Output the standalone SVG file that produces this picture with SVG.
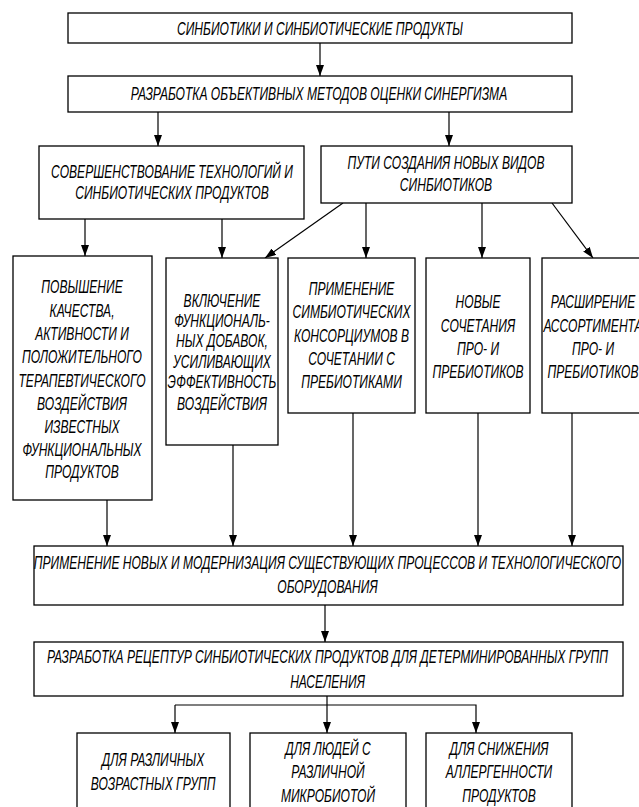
<svg xmlns="http://www.w3.org/2000/svg" width="639" height="807" viewBox="0 0 639 807">
<style>
.b{fill:#fff;stroke:#000;stroke-width:1.3}
.t{font-family:"Liberation Sans",Arial,sans-serif;font-style:italic;font-size:17.5px;fill:#000;text-anchor:middle}
.c{stroke:#000;stroke-width:1.2;fill:none}
</style>
<defs>
<marker id="a" markerUnits="userSpaceOnUse" markerWidth="11" markerHeight="8" refX="11" refY="4" orient="auto" viewBox="0 0 11 8">
<path d="M0,0 L11,4 L0,8 z" fill="#000"/>
</marker>
</defs>
<rect width="639" height="807" fill="#fff"/>
<g id="connectors">
<line class="c" x1="320" y1="43" x2="320" y2="76" marker-end="url(#a)"/>
<line class="c" x1="158" y1="112" x2="158" y2="146" marker-end="url(#a)"/>
<line class="c" x1="449" y1="112" x2="449" y2="146" marker-end="url(#a)"/>
<line class="c" x1="85" y1="219" x2="85" y2="256" marker-end="url(#a)"/>
<line class="c" x1="222" y1="219" x2="222" y2="258" marker-end="url(#a)"/>
<line class="c" x1="343" y1="203" x2="265" y2="258" marker-end="url(#a)"/>
<line class="c" x1="366" y1="203" x2="366" y2="258" marker-end="url(#a)"/>
<line class="c" x1="482" y1="203" x2="482" y2="258" marker-end="url(#a)"/>
<line class="c" x1="552" y1="203" x2="593" y2="258" marker-end="url(#a)"/>
<line class="c" x1="107" y1="500" x2="107" y2="546" marker-end="url(#a)"/>
<line class="c" x1="233" y1="445" x2="233" y2="546" marker-end="url(#a)"/>
<line class="c" x1="353" y1="413" x2="353" y2="546" marker-end="url(#a)"/>
<line class="c" x1="478" y1="413" x2="478" y2="546" marker-end="url(#a)"/>
<line class="c" x1="572" y1="413" x2="572" y2="546" marker-end="url(#a)"/>
<line class="c" x1="325" y1="605" x2="325" y2="642" marker-end="url(#a)"/>
<line class="c" x1="327" y1="696" x2="327" y2="733" marker-end="url(#a)"/>
<polyline class="c" points="175,705 476,705 476,733" marker-end="url(#a)"/>
<line class="c" x1="175" y1="705" x2="175" y2="733" marker-end="url(#a)"/>
</g>
<g id="n1"><rect class="b" x="68" y="13" width="504" height="30"/><text class="t" transform="translate(320,0) scale(.69,1)" y="35">СИНБИОТИКИ И СИНБИОТИЧЕСКИЕ ПРОДУКТЫ</text></g>
<g id="n2"><rect class="b" x="68" y="76" width="504" height="36"/><text class="t" transform="translate(319,0) scale(.69,1)" y="100">РАЗРАБОТКА ОБЪЕКТИВНЫХ МЕТОДОВ ОЦЕНКИ СИНЕРГИЗМА</text></g>
<g id="n3"><rect class="b" x="39" y="146" width="265" height="73"/><text class="t" transform="translate(172,0) scale(.69,1)" y="178">СОВЕРШЕНСТВОВАНИЕ ТЕХНОЛОГИЙ И</text><text class="t" transform="translate(172,0) scale(.69,1)" y="199">СИНБИОТИЧЕСКИХ ПРОДУКТОВ</text></g>
<g id="n4"><rect class="b" x="321" y="146" width="251" height="57"/><text class="t" transform="translate(446,0) scale(.69,1)" y="169">ПУТИ СОЗДАНИЯ НОВЫХ ВИДОВ</text><text class="t" transform="translate(446,0) scale(.69,1)" y="191">СИНБИОТИКОВ</text></g>
<g id="n5"><rect class="b" x="13" y="256" width="139" height="244"/>
<g transform="translate(82,0) scale(.69,1)">
<text class="t" y="293">ПОВЫШЕНИЕ</text><text class="t" y="317">КАЧЕСТВА,</text><text class="t" y="340">АКТИВНОСТИ И</text><text class="t" y="363">ПОЛОЖИТЕЛЬНОГО</text><text class="t" y="387">ТЕРАПЕВТИЧЕСКОГО</text><text class="t" y="410">ВОЗДЕЙСТВИЯ</text><text class="t" y="433">ИЗВЕСТНЫХ</text><text class="t" y="456">ФУНКЦИОНАЛЬНЫХ</text><text class="t" y="478">ПРОДУКТОВ</text></g></g>
<g id="n6"><rect class="b" x="166" y="258" width="112" height="187"/>
<g transform="translate(222,0) scale(.69,1)">
<text class="t" y="307">ВКЛЮЧЕНИЕ</text><text class="t" y="327">ФУНКЦИОНАЛЬ-</text><text class="t" y="347">НЫХ ДОБАВОК,</text><text class="t" y="368">УСИЛИВАЮЩИХ</text><text class="t" y="388">ЭФФЕКТИВНОСТЬ</text><text class="t" y="410">ВОЗДЕЙСТВИЯ</text></g></g>
<g id="n7"><rect class="b" x="288" y="258" width="127" height="155"/>
<g transform="translate(351.5,0) scale(.69,1)">
<text class="t" y="295">ПРИМЕНЕНИЕ</text><text class="t" y="318">СИМБИОТИЧЕСКИХ</text><text class="t" y="342">КОНСОРЦИУМОВ В</text><text class="t" y="365">СОЧЕТАНИИ С</text><text class="t" y="388">ПРЕБИОТИКАМИ</text></g></g>
<g id="n8"><rect class="b" x="426" y="258" width="104" height="155"/>
<g transform="translate(478,0) scale(.69,1)">
<text class="t" y="308">НОВЫЕ</text><text class="t" y="332">СОЧЕТАНИЯ</text><text class="t" y="355">ПРО- И</text><text class="t" y="378">ПРЕБИОТИКОВ</text></g></g>
<g id="n9"><rect class="b" x="542" y="258" width="102" height="155"/>
<g transform="translate(593,0) scale(.69,1)">
<text class="t" y="308">РАСШИРЕНИЕ</text><text class="t" y="332">АССОРТИМЕНТА</text><text class="t" y="355">ПРО- И</text><text class="t" y="378">ПРЕБИОТИКОВ</text></g></g>
<g id="n10"><rect class="b" x="34" y="546" width="589" height="59"/>
<g transform="translate(327.5,0) scale(.69,1)"><text class="t" y="569">ПРИМЕНЕНИЕ НОВЫХ И МОДЕРНИЗАЦИЯ СУЩЕСТВУЮЩИХ ПРОЦЕССОВ И ТЕХНОЛОГИЧЕСКОГО</text><text class="t" y="593">ОБОРУДОВАНИЯ</text></g></g>
<g id="n11"><rect class="b" x="34" y="642" width="589" height="54"/>
<g transform="translate(327.5,0) scale(.69,1)"><text class="t" y="663">РАЗРАБОТКА РЕЦЕПТУР СИНБИОТИЧЕСКИХ ПРОДУКТОВ ДЛЯ ДЕТЕРМИНИРОВАННЫХ ГРУПП</text><text class="t" y="688">НАСЕЛЕНИЯ</text></g></g>
<g id="n12"><rect class="b" x="77" y="733" width="153" height="90"/>
<g transform="translate(153,0) scale(.69,1)"><text class="t" y="766">ДЛЯ РАЗЛИЧНЫХ</text><text class="t" y="790">ВОЗРАСТНЫХ ГРУПП</text></g></g>
<g id="n13"><rect class="b" x="250" y="733" width="156" height="90"/>
<g transform="translate(328,0) scale(.69,1)"><text class="t" y="755">ДЛЯ ЛЮДЕЙ С</text><text class="t" y="778">РАЗЛИЧНОЙ</text><text class="t" y="802">МИКРОБИОТОЙ</text></g></g>
<g id="n14"><rect class="b" x="426" y="733" width="146" height="90"/>
<g transform="translate(499,0) scale(.69,1)"><text class="t" y="755">ДЛЯ СНИЖЕНИЯ</text><text class="t" y="778">АЛЛЕРГЕННОСТИ</text><text class="t" y="802">ПРОДУКТОВ</text></g></g>
</svg>
